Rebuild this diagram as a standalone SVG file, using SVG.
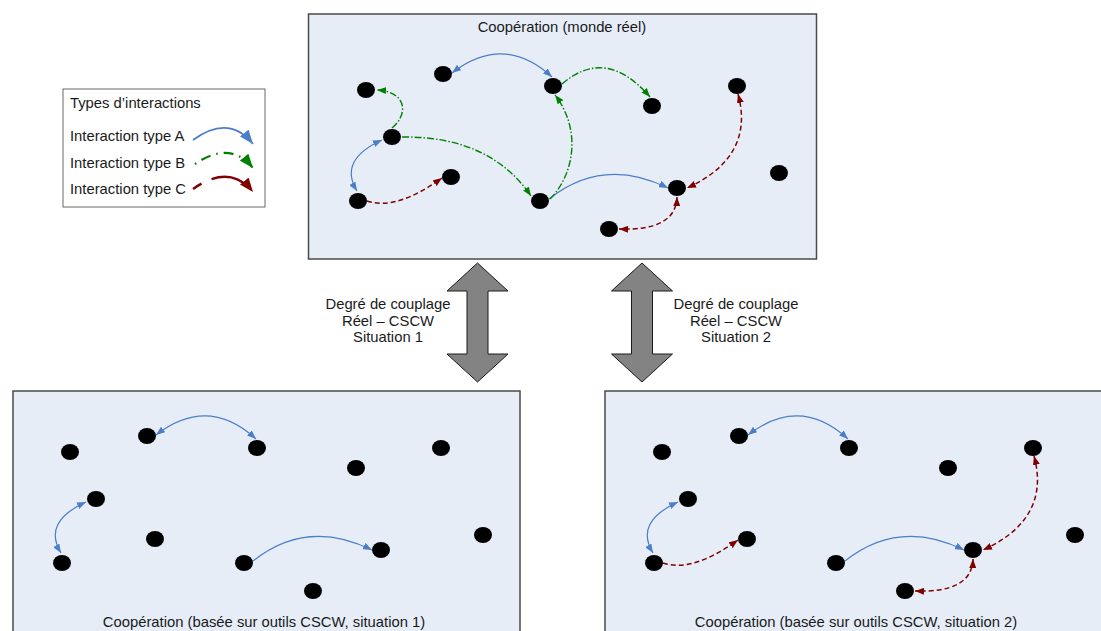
<svg xmlns="http://www.w3.org/2000/svg" width="1101" height="631" viewBox="0 0 1101 631">
<defs>
<style>
text{font-family:"Liberation Sans",Arial,sans-serif;font-size:14.8px;fill:#1a1a1a}
.mid{text-anchor:middle}
.panel{fill:#E6EDF7;stroke:#4a4a4a;stroke-width:1.5}
.node{fill:#000}
.a{fill:none;stroke:#4A7EC8;stroke-width:1.2}
.b{fill:none;stroke:#008000;stroke-width:1.4;stroke-dasharray:7 2 1.5 2}
.c{fill:none;stroke:#800000;stroke-width:1.5;stroke-dasharray:5 3}
.big{fill:#838383;stroke:#1a1a1a;stroke-width:1}
</style>
<marker id="mA" viewBox="0 0 9 7" refX="9" refY="3.5" markerWidth="9" markerHeight="7" markerUnits="userSpaceOnUse" orient="auto-start-reverse"><path d="M0,0 L9,3.5 L0,7 z" fill="#4A7EC8"/></marker>
<marker id="mB" viewBox="0 0 9 7" refX="9" refY="3.5" markerWidth="9" markerHeight="7" markerUnits="userSpaceOnUse" orient="auto-start-reverse"><path d="M0,0 L9,3.5 L0,7 z" fill="#008000"/></marker>
<marker id="mC" viewBox="0 0 9 7" refX="9" refY="3.5" markerWidth="9" markerHeight="7" markerUnits="userSpaceOnUse" orient="auto-start-reverse"><path d="M0,0 L9,3.5 L0,7 z" fill="#800000"/></marker>
<marker id="lA" viewBox="0 0 14 11" refX="14" refY="5.5" markerWidth="14" markerHeight="11" markerUnits="userSpaceOnUse" orient="auto"><path d="M0,0 L14,5.5 L0,11 z" fill="#4A7EC8"/></marker>
<marker id="lB" viewBox="0 0 14 11" refX="14" refY="5.5" markerWidth="14" markerHeight="11" markerUnits="userSpaceOnUse" orient="auto"><path d="M0,0 L14,5.5 L0,11 z" fill="#008000"/></marker>
<marker id="lC" viewBox="0 0 14 11" refX="14" refY="5.5" markerWidth="14" markerHeight="11" markerUnits="userSpaceOnUse" orient="auto"><path d="M0,0 L14,5.5 L0,11 z" fill="#800000"/></marker>
</defs>
<rect width="1101" height="631" fill="#fff"/>

<!-- Panels -->
<g id="panel-top">
<rect class="panel" x="308.5" y="14" width="508" height="245"/>
<text class="mid" x="562" y="32">Coopération (monde réel)</text>
</g>
<g id="panel-situation1">
<rect class="panel" x="13" y="391" width="507" height="260"/>
<text class="mid" x="264" y="627">Coopération (basée sur outils CSCW, situation 1)</text>
</g>
<g id="panel-situation2">
<rect class="panel" x="605" y="391" width="510" height="260"/>
<text class="mid" x="856" y="627">Coopération (basée sur outils CSCW, situation 2)</text>
</g>

<!-- Legend -->
<g id="legend">
<rect x="63" y="89" width="202" height="118" fill="#fff" stroke="#666" stroke-width="1"/>
<text x="70" y="108">Types d’interactions</text>
<text x="70" y="141">Interaction type A</text>
<text x="70" y="168">Interaction type B</text>
<text x="70" y="194">Interaction type C</text>
<path d="M193,140 Q229,114 253,144" fill="none" stroke="#4A7EC8" stroke-width="1.8" marker-end="url(#lA)"/>
<path d="M195,164 Q230,140 253,168" fill="none" stroke="#008000" stroke-width="2.2" stroke-dasharray="1.5 6 10 6" marker-end="url(#lB)"/>
<path d="M193,189 Q230,163 253,192" fill="none" stroke="#800000" stroke-width="2.4" stroke-dasharray="10 11 40" marker-end="url(#lC)"/>
</g>

<!-- Coupling arrows -->
<g id="coupling-1">
<path class="big" d="M477.5,263 L508,291 L488,291 L488,354 L508,354 L477.5,382 L447,354 L467,354 L467,291 L447,291 Z"/>
<text class="mid" x="388" y="309">Degré de couplage</text>
<text class="mid" x="388" y="326">Réel – CSCW</text>
<text class="mid" x="388" y="342">Situation 1</text>
</g>
<g id="coupling-2">
<path class="big" d="M642,263 L672.5,291 L652.5,291 L652.5,354 L672.5,354 L642,382 L611.5,354 L631.5,354 L631.5,291 L611.5,291 Z"/>
<text class="mid" x="736" y="309">Degré de couplage</text>
<text class="mid" x="736" y="326">Réel – CSCW</text>
<text class="mid" x="736" y="342">Situation 2</text>
</g>

<!-- Connectors -->
<g id="connectors">
<g id="connectors-top" transform="translate(296,-362)">
<path class="a" d="M156,435 Q208,395 256,439" marker-start="url(#mA)" marker-end="url(#mA)"/>
<path class="a" d="M86,502 Q42,522 61,553" marker-start="url(#mA)" marker-end="url(#mA)"/>
<path class="a" d="M253,561 Q307,518 372,550" marker-end="url(#mA)"/>
<path class="b" d="M96,490 C112,477 112,454 81,452" marker-end="url(#mB)"/>
<path class="b" d="M106,499 Q194,498 235,558" marker-end="url(#mB)"/>
<path class="b" d="M254,561 C278,537 286,492 259,457" marker-end="url(#mB)"/>
<path class="b" d="M266,446 Q310,408 354,459" marker-end="url(#mB)"/>
<path class="c" d="M71,563 Q100,573 146,540" marker-end="url(#mC)"/>
<path class="c" d="M442,456 C452,492 442,527 391,550" marker-start="url(#mC)" marker-end="url(#mC)"/>
<path class="c" d="M381,559 Q380,593 323,591" marker-start="url(#mC)" marker-end="url(#mC)"/>
</g>
<g id="connectors-s1">
<path class="a" d="M156,435 Q208,395 256,439" marker-start="url(#mA)" marker-end="url(#mA)"/>
<path class="a" d="M86,502 Q42,522 61,553" marker-start="url(#mA)" marker-end="url(#mA)"/>
<path class="a" d="M253,561 Q307,518 372,550" marker-end="url(#mA)"/>
</g>
<g id="connectors-s2" transform="translate(592,0)">
<path class="a" d="M156,435 Q208,395 256,439" marker-start="url(#mA)" marker-end="url(#mA)"/>
<path class="a" d="M86,502 Q42,522 61,553" marker-start="url(#mA)" marker-end="url(#mA)"/>
<path class="a" d="M253,561 Q307,518 372,550" marker-end="url(#mA)"/>
<path class="c" d="M71,563 Q100,573 146,540" marker-end="url(#mC)"/>
<path class="c" d="M442,456 C452,492 442,527 391,550" marker-start="url(#mC)" marker-end="url(#mC)"/>
<path class="c" d="M381,559 Q380,593 323,591" marker-start="url(#mC)" marker-end="url(#mC)"/>
</g>
</g>

<!-- Nodes: top panel -->
<g transform="translate(296,-362)">
<g id="t-n1"><ellipse class="node" cx="70" cy="452" rx="9" ry="8"/></g>
<g id="t-n2"><ellipse class="node" cx="147" cy="436" rx="9" ry="8"/></g>
<g id="t-n3"><ellipse class="node" cx="257" cy="448" rx="9" ry="8"/></g>
<g id="t-n4"><ellipse class="node" cx="356" cy="468" rx="9" ry="8"/></g>
<g id="t-n5"><ellipse class="node" cx="441" cy="448" rx="9" ry="8"/></g>
<g id="t-n6"><ellipse class="node" cx="96" cy="499" rx="9" ry="8"/></g>
<g id="t-n7"><ellipse class="node" cx="155" cy="539" rx="9" ry="8"/></g>
<g id="t-n8"><ellipse class="node" cx="62" cy="563" rx="9" ry="8"/></g>
<g id="t-n9"><ellipse class="node" cx="244" cy="563" rx="9" ry="8"/></g>
<g id="t-n10"><ellipse class="node" cx="381" cy="550" rx="9" ry="8"/></g>
<g id="t-n11"><ellipse class="node" cx="483" cy="535" rx="9" ry="8"/></g>
<g id="t-n12"><ellipse class="node" cx="313" cy="591" rx="9" ry="8"/></g>
</g>
<!-- Nodes: situation 1 -->
<g>
<g id="s1-n1"><ellipse class="node" cx="70" cy="452" rx="9" ry="8"/></g>
<g id="s1-n2"><ellipse class="node" cx="147" cy="436" rx="9" ry="8"/></g>
<g id="s1-n3"><ellipse class="node" cx="257" cy="448" rx="9" ry="8"/></g>
<g id="s1-n4"><ellipse class="node" cx="356" cy="468" rx="9" ry="8"/></g>
<g id="s1-n5"><ellipse class="node" cx="441" cy="448" rx="9" ry="8"/></g>
<g id="s1-n6"><ellipse class="node" cx="96" cy="499" rx="9" ry="8"/></g>
<g id="s1-n7"><ellipse class="node" cx="155" cy="539" rx="9" ry="8"/></g>
<g id="s1-n8"><ellipse class="node" cx="62" cy="563" rx="9" ry="8"/></g>
<g id="s1-n9"><ellipse class="node" cx="244" cy="563" rx="9" ry="8"/></g>
<g id="s1-n10"><ellipse class="node" cx="381" cy="550" rx="9" ry="8"/></g>
<g id="s1-n11"><ellipse class="node" cx="483" cy="535" rx="9" ry="8"/></g>
<g id="s1-n12"><ellipse class="node" cx="313" cy="591" rx="9" ry="8"/></g>
</g>
<!-- Nodes: situation 2 -->
<g transform="translate(592,0)">
<g id="s2-n1"><ellipse class="node" cx="70" cy="452" rx="9" ry="8"/></g>
<g id="s2-n2"><ellipse class="node" cx="147" cy="436" rx="9" ry="8"/></g>
<g id="s2-n3"><ellipse class="node" cx="257" cy="448" rx="9" ry="8"/></g>
<g id="s2-n4"><ellipse class="node" cx="356" cy="468" rx="9" ry="8"/></g>
<g id="s2-n5"><ellipse class="node" cx="441" cy="448" rx="9" ry="8"/></g>
<g id="s2-n6"><ellipse class="node" cx="96" cy="499" rx="9" ry="8"/></g>
<g id="s2-n7"><ellipse class="node" cx="155" cy="539" rx="9" ry="8"/></g>
<g id="s2-n8"><ellipse class="node" cx="62" cy="563" rx="9" ry="8"/></g>
<g id="s2-n9"><ellipse class="node" cx="244" cy="563" rx="9" ry="8"/></g>
<g id="s2-n10"><ellipse class="node" cx="381" cy="550" rx="9" ry="8"/></g>
<g id="s2-n11"><ellipse class="node" cx="483" cy="535" rx="9" ry="8"/></g>
<g id="s2-n12"><ellipse class="node" cx="313" cy="591" rx="9" ry="8"/></g>
</g>
</svg>
